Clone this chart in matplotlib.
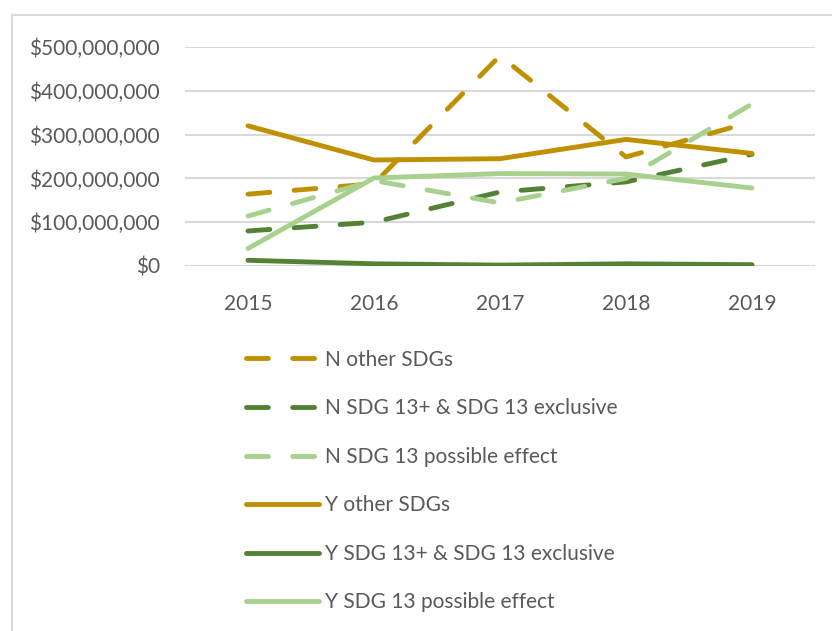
import matplotlib.pyplot as plt
from matplotlib.lines import Line2D
from matplotlib.ticker import FuncFormatter

# Data (USD)
years = ["2015", "2016", "2017", "2018", "2019"]
n_other = [164e6, 188e6, 480e6, 249e6, 329e6]
n_sdg13_excl = [80e6, 100e6, 169e6, 192e6, 255e6]
n_sdg13_possible = [114e6, 195e6, 144e6, 200e6, 370e6]
y_other = [320e6, 242e6, 245e6, 289e6, 257e6]
y_sdg13_excl = [13e6, 5e6, 2e6, 5e6, 3e6]
y_sdg13_possible = [40e6, 201e6, 211e6, 210e6, 178e6]

labels = [
    "N other SDGs",
    "N SDG 13+ & SDG 13 exclusive",
    "N SDG 13 possible effect",
    "Y other SDGs",
    "Y SDG 13+ & SDG 13 exclusive",
    "Y SDG 13 possible effect",
]

GOLD = "#BF9000"
DARK_GREEN = "#548235"
LIGHT_GREEN = "#A9D18E"
TEXT = "#595959"
GRID = "#D9D9D9"

series = [
    (n_other, GOLD, True),
    (n_sdg13_excl, DARK_GREEN, True),
    (n_sdg13_possible, LIGHT_GREEN, True),
    (y_other, GOLD, False),
    (y_sdg13_excl, DARK_GREEN, False),
    (y_sdg13_possible, LIGHT_GREEN, False),
]

plt.rcParams['font.family'] = ['Lato', 'DejaVu Sans']

W, H = 832, 631
fig = plt.figure(figsize=(W / 100, H / 100), dpi=100)
ax = fig.add_axes([185 / W, 1 - 266 / H, (815 - 185) / W, (266 - 47) / H])

x = list(range(len(years)))
handles = []
for (vals, color, dashed), label in zip(series, labels):
    kw = dict(color=color, lw=3.5, solid_capstyle="round", dash_capstyle="round")
    if dashed:
        kw["dashes"] = (4.5, 5.0)
    line, = ax.plot(x, vals, label=label, **kw)
    handles.append(line)

ax.set_xlim(-0.5, len(years) - 0.5)
ax.set_ylim(0, 500e6)
ax.set_yticks([0, 100e6, 200e6, 300e6, 400e6, 500e6])
ax.yaxis.set_major_formatter(FuncFormatter(lambda v, p: f"${v:,.0f}"))
ax.set_xticks(x)
ax.set_xticklabels(years)
ax.grid(axis="y", color=GRID, lw=1.5)
ax.set_axisbelow(True)
for s in ax.spines.values():
    s.set_visible(False)
ax.tick_params(length=0, labelsize=15, colors=TEXT, pad=18)
ax.tick_params(axis="x", pad=20)

leg = fig.legend(handles=handles, loc="upper left", bbox_to_anchor=(227 / W, 1 - 331 / H),
                 frameon=False, fontsize=15, labelcolor=TEXT, handlelength=3.5,
                 handletextpad=0.3, labelspacing=1.37)

# chart-area border (top and left edges visible)
fig.add_artist(Line2D([12 / W, 1], [1 - 15 / H, 1 - 15 / H], color=GRID, lw=1.5,
                      transform=fig.transFigure))
fig.add_artist(Line2D([12 / W, 12 / W], [0, 1 - 15 / H], color=GRID, lw=1.5,
                      transform=fig.transFigure))

fig.savefig("out.png", dpi=100)
